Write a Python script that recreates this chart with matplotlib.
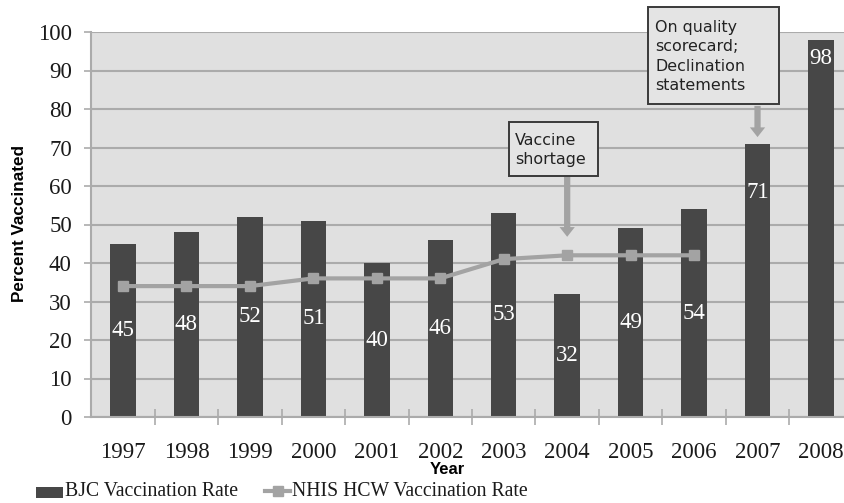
import matplotlib
matplotlib.use("Agg")
import matplotlib.pyplot as plt
from matplotlib.patches import Rectangle
from matplotlib.lines import Line2D

years = ["1997", "1998", "1999", "2000", "2001", "2002", "2003", "2004",
         "2005", "2006", "2007", "2008"]
bjc = [45, 48, 52, 51, 40, 46, 53, 32, 49, 54, 71, 98]
nhis = [34, 34, 34, 36, 36, 36, 41, 42, 42, 42]
yticks = [0, 10, 20, 30, 40, 50, 60, 70, 80, 90, 100]
note1 = "Vaccine\nshortage"
note2 = "On quality\nscorecard;\nDeclination\nstatements"

BAR = "#474747"
LINE = "#a3a3a3"
BG = "#e0e0e0"
GRID = "#ababab"
SERIF = "Liberation Serif"
SANS = "Liberation Sans"

W, H = 844, 503
fig = plt.figure(figsize=(W / 100, H / 100), dpi=100)
ax = fig.add_axes([91.3 / W, (H - 417) / H, (852.7 - 91.3) / W, (417 - 32) / H])
ax.set_facecolor(BG)

x = list(range(len(years)))
ax.bar(x, bjc, width=0.4, color=BAR, zorder=2)
ax.plot(x[:len(nhis)], nhis, color=LINE, lw=3, marker="s", markersize=7.5,
        markerfacecolor=LINE, markeredgecolor=LINE, zorder=3)

for i, v in enumerate(bjc):
    if i == 10:
        yy = v - 12.8
    elif i == 11:
        yy = v - 4.8
    else:
        yy = v / 2
    ax.text(i, yy, str(v), ha="center", va="center", color="white",
            fontsize=16.5, family=SERIF, zorder=4)

ax.set_xlim(-0.5, len(years) - 0.5)
ax.set_ylim(0, 100)
ax.set_yticks(yticks)
ax.yaxis.grid(True, color=GRID, lw=1.5, zorder=1)
ax.set_axisbelow(True)
ax.set_xticks(x)
ax.set_xticklabels(years)
ax.set_xticks([i - 0.5 for i in range(1, len(years))], minor=True)
ax.tick_params(axis="x", which="major", length=0, pad=18, labelsize=16.5)
ax.tick_params(axis="x", which="minor", length=12, direction="inout",
               color=GRID, width=1.2)
ax.tick_params(axis="y", length=5, color=GRID, width=1.2, pad=9, labelsize=16.5)
for lab in ax.get_xticklabels() + ax.get_yticklabels():
    lab.set_family(SERIF)
    lab.set_color("#1a1a1a")
for s in ["top", "right"]:
    ax.spines[s].set_visible(False)
for s in ["left", "bottom"]:
    ax.spines[s].set_color(GRID)
    ax.spines[s].set_linewidth(1.5)

# annotations
def box(x0, x1, y0, y1, text, tx, ty):
    ax.add_patch(Rectangle((x0, y0), x1 - x0, y1 - y0, facecolor="#e4e4e4",
                           edgecolor="#3a3a3a", lw=1.4, zorder=5, clip_on=False))
    ax.text(tx, ty, text, ha="left", va="center", fontsize=11.4,
            family="DejaVu Sans", color="#222222", linespacing=1.38,
            zorder=6, clip_on=False)

box(6.08, 7.48, 62.6, 76.6, note1, 6.18, 69.4)
box(8.27, 10.34, 81.3, 106.5, note2, 8.39, 93.6)

arrow = dict(arrowstyle="simple,head_width=1.1,head_length=0.7,tail_width=0.45",
             color=LINE, lw=0, shrinkA=0, shrinkB=0)
ax.annotate("", xy=(7, 46.8), xytext=(7, 62.4), arrowprops=arrow, zorder=4)
ax.annotate("", xy=(10, 72.7), xytext=(10, 80.8), arrowprops=arrow, zorder=4)

# axis titles
fig.text(447 / W, 1 - 470 / H, "Year", ha="center", va="center",
         fontsize=12, fontweight="bold", family=SANS)
fig.text(20 / W, 1 - 224 / H, "Percent Vaccinated", ha="center", va="center",
         rotation=90, fontsize=12.3, fontweight="bold", family=SANS)

# legend
fig.patches.append(Rectangle((36 / W, 1 - 498 / H), 27 / W, 11 / H,
                             transform=fig.transFigure, facecolor=BAR,
                             edgecolor="none"))
fig.text(65 / W, 1 - 492 / H, "BJC Vaccination Rate", ha="left", va="center",
         fontsize=14.2, family=SERIF, color="#1a1a1a")
fig.lines.append(Line2D([265 / W, 290 / W], [1 - 491 / H, 1 - 491 / H],
                        transform=fig.transFigure, color=LINE, lw=3))
fig.lines.append(Line2D([277.5 / W], [1 - 491 / H], transform=fig.transFigure,
                        color=LINE, marker="s", markersize=7))
fig.text(292 / W, 1 - 492 / H, "NHIS HCW Vaccination Rate", ha="left",
         va="center", fontsize=14.2, family=SERIF, color="#1a1a1a")

fig.savefig("out.png", dpi=100)
